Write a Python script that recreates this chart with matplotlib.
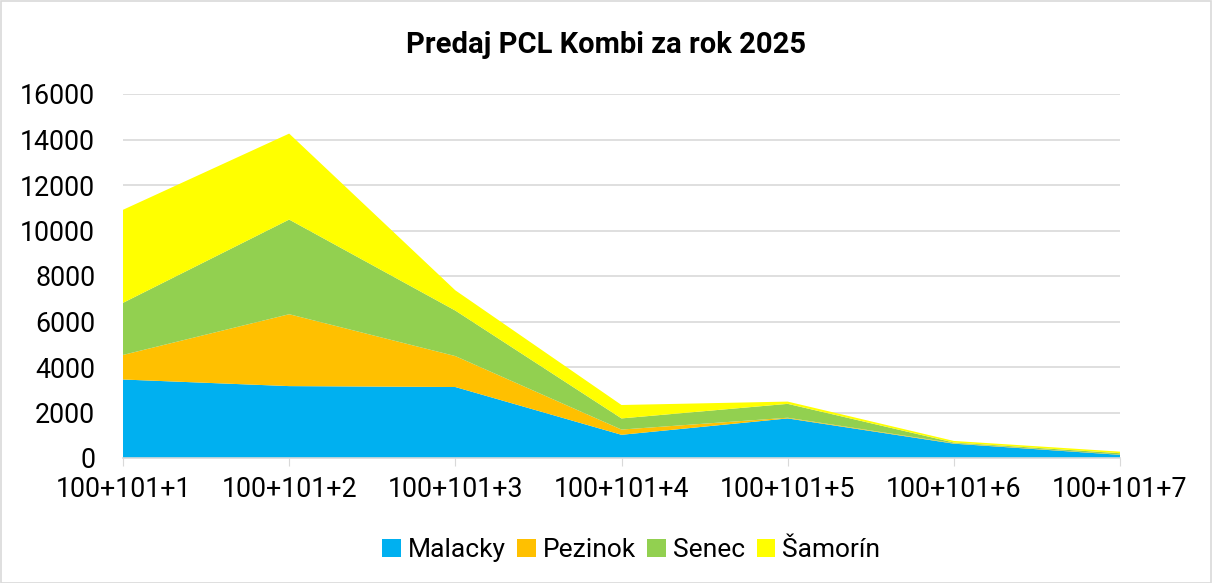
import matplotlib
matplotlib.use("Agg")
import matplotlib.pyplot as plt
from matplotlib.patches import Rectangle

# Data ________________________________________________________________________
categories = ['100+101+1', '100+101+2', '100+101+3', '100+101+4',
              '100+101+5', '100+101+6', '100+101+7']
malacky = [3450, 3160, 3120, 1020, 1740, 630, 140]
pezinok = [1080, 3160, 1360, 230, 30, 20, 10]
senec = [2290, 4160, 2000, 490, 610, 30, 60]
samorin = [4090, 3780, 890, 590, 100, 70, 70]
series_names = ['Malacky', 'Pezinok', 'Senec', 'Šamorín']
colors = ['#00B0F0', '#FFC000', '#92D050', '#FFFF00']


def main():
    plt.rcParams['font.family'] = ['Roboto', 'DejaVu Sans']

    fig = plt.figure(figsize=(12.12, 5.83), dpi=100)
    W, H = 1212, 583
    # plot area in pixel coordinates
    left, right, top, bottom = 123, 1120, 94, 458
    ax = fig.add_axes([left / W, 1 - bottom / H, (right - left) / W, (bottom - top) / H])

    x = list(range(len(categories)))
    polys = ax.stackplot(x, malacky, pezinok, senec, samorin,
                         colors=colors, labels=series_names, linewidth=0)

    ax.set_xlim(0, len(categories) - 1)
    ax.set_ylim(0, 16000)
    ax.set_yticks(range(0, 16001, 2000))
    ax.set_xticks(x)
    ax.set_xticklabels(categories)

    ax.grid(axis='y', color='#D9D9D9', linewidth=1.2)
    ax.set_axisbelow(True)
    for s in ['top', 'right', 'left']:
        ax.spines[s].set_visible(False)
    ax.spines['bottom'].set_color('#D9D9D9')
    ax.spines['bottom'].set_linewidth(1.2)
    ax.tick_params(axis='x', length=6, color='#D9D9D9', labelsize=19.3, pad=7)
    ax.tick_params(axis='y', length=0, labelsize=19.3, pad=20)

    fig.text(0.5, 1 - 45 / H, 'Predaj PCL Kombi za rok 2025', ha='center', va='center',
             fontsize=21, fontweight='bold')

    fig.legend(handles=polys, labels=series_names, loc='center', bbox_to_anchor=(631 / W, 1 - 550 / H),
               ncol=4, frameon=False, fontsize=19, handlelength=0.7, handleheight=0.7,
               handletextpad=0.25, columnspacing=0.45)

    # chart border
    fig.patches.append(Rectangle((0.5 / W, 0.5 / H), 1 - 1.5 / W, 1 - 1.5 / H, transform=fig.transFigure,
                                 fill=False, edgecolor='#D9D9D9', linewidth=1.2))

    plt.savefig('out.png', dpi=100)


if __name__ == "__main__":
    main()
